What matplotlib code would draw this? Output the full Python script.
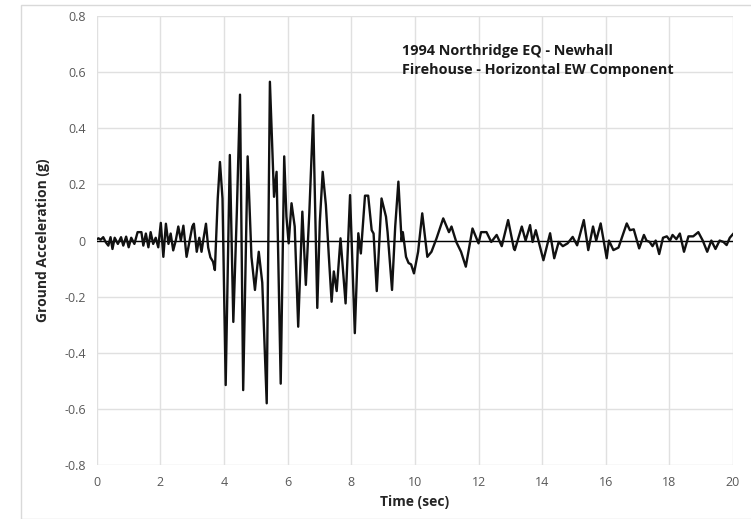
import matplotlib.pyplot as plt
from matplotlib.patches import Rectangle

# Time (sec) and ground acceleration (g)
time_s = [
    0.00, 0.05, 0.12, 0.20, 0.28, 0.36, 0.43, 0.49, 0.56, 0.66, 0.76, 0.83, 0.92, 1.00,
    1.08, 1.18, 1.28, 1.40, 1.46, 1.54, 1.62, 1.69, 1.77, 1.85, 1.93, 2.01, 2.09, 2.17,
    2.25, 2.32, 2.40, 2.48, 2.56, 2.64, 2.72, 2.82, 2.90, 3.00, 3.05, 3.14, 3.22, 3.29,
    3.35, 3.43, 3.50, 3.57, 3.65, 3.71, 3.80, 3.87, 3.95, 4.05, 4.18, 4.29, 4.40, 4.50,
    4.60, 4.74, 4.86, 4.97, 5.09, 5.20, 5.34, 5.44, 5.57, 5.65, 5.78, 5.89, 5.96, 6.03,
    6.12, 6.22, 6.33, 6.46, 6.57, 6.68, 6.80, 6.93, 7.01, 7.10, 7.20, 7.29, 7.38, 7.45,
    7.54, 7.66, 7.82, 7.96, 8.11, 8.22, 8.30, 8.43, 8.53, 8.64, 8.70, 8.80, 8.95, 9.09,
    9.14, 9.21, 9.28, 9.38, 9.48, 9.58, 9.62, 9.72, 9.80, 9.88, 9.97, 10.10, 10.23,
    10.39, 10.52, 10.68, 10.89, 11.07, 11.15, 11.30, 11.45, 11.60, 11.81, 12.00, 12.08,
    12.25, 12.40, 12.57, 12.73, 12.93, 13.11, 13.14, 13.36, 13.48, 13.62, 13.70, 13.80,
    14.04, 14.25, 14.38, 14.52, 14.65, 14.80, 14.96, 15.10, 15.31, 15.45, 15.60, 15.70,
    15.84, 16.03, 16.10, 16.24, 16.40, 16.66, 16.76, 16.88, 17.05, 17.20, 17.28, 17.38,
    17.47, 17.57, 17.68, 17.80, 17.92, 18.02, 18.10, 18.22, 18.33, 18.46, 18.60, 18.75,
    18.91, 19.05, 19.19, 19.32, 19.45, 19.58, 19.70, 19.80, 19.90, 20.00,
]
accel_g = [
    0.005, 0.008, 0.003, 0.012, -0.006, -0.018, 0.012, -0.030, 0.010, -0.012, 0.012,
    -0.018, 0.014, -0.024, 0.010, -0.012, 0.030, 0.030, -0.018, 0.025, -0.024, 0.030,
    -0.012, 0.010, -0.024, 0.063, -0.058, 0.060, -0.012, 0.025, -0.035, 0.000, 0.050,
    0.000, 0.053, -0.058, -0.010, 0.050, 0.060, -0.040, 0.010, -0.040, 0.005, 0.060,
    -0.025, -0.060, -0.075, -0.105, 0.150, 0.280, 0.150, -0.515, 0.305, -0.290, 0.100,
    0.520, -0.533, 0.300, -0.058, -0.176, -0.040, -0.150, -0.580, 0.566, 0.156, 0.245,
    -0.510, 0.300, 0.085, -0.010, 0.133, 0.050, -0.307, 0.103, -0.158, 0.100, 0.447,
    -0.240, 0.067, 0.245, 0.127, -0.050, -0.218, -0.110, -0.180, 0.008, -0.224, 0.162,
    -0.330, 0.026, -0.046, 0.160, 0.160, 0.037, 0.025, -0.180, 0.150, 0.085, 0.030,
    -0.075, -0.176, 0.050, 0.210, 0.000, 0.030, -0.058, -0.080, -0.085, -0.117, -0.040,
    0.097, -0.058, -0.040, 0.008, 0.079, 0.030, 0.050, -0.005, -0.040, -0.093, 0.043,
    -0.010, 0.030, 0.030, -0.005, 0.020, -0.020, 0.073, -0.028, -0.034, 0.050, 0.000,
    0.055, -0.005, 0.037, -0.070, 0.026, -0.063, -0.005, -0.020, -0.010, 0.013, -0.017,
    0.073, -0.034, 0.050, 0.000, 0.061, -0.063, 0.000, -0.034, -0.025, 0.061, 0.037,
    0.040, -0.028, 0.020, 0.000, -0.005, -0.020, 0.000, -0.048, 0.010, 0.015, 0.000,
    0.020, 0.005, 0.025, -0.040, 0.015, 0.015, 0.030, 0.000, -0.040, 0.000, -0.030,
    0.000, -0.005, -0.016, 0.010, 0.023,
]

x_ticks = list(range(0, 21, 2))
y_ticks = [-0.8, -0.6, -0.4, -0.2, 0.0, 0.2, 0.4, 0.6, 0.8]
y_tick_labels = ["-0.8", "-0.6", "-0.4", "-0.2", "0", "0.2", "0.4", "0.6", "0.8"]

plt.rcParams["font.family"] = ["Open Sans", "DejaVu Sans"]

fig = plt.figure(figsize=(7.51, 5.19), dpi=100)
ax = fig.add_axes([0.129, 0.104, 0.847, 0.865])

# light frame around the whole chart area
fig.patches.append(Rectangle((21 / 751, 0.0), 1.0, 1 - 5 / 519, transform=fig.transFigure,
                             fill=False, edgecolor="#d9d9d9", linewidth=1.0))

ax.set_xlim(0, 20)
ax.set_ylim(-0.8, 0.8)
ax.set_xticks(x_ticks)
ax.set_yticks(y_ticks)
ax.set_yticklabels(y_tick_labels)
ax.grid(True, color="#e0e0e0", linewidth=1.0)
ax.set_axisbelow(True)
for side in ax.spines.values():
    side.set_visible(False)
ax.tick_params(length=0, labelsize=9, labelcolor="#595959", pad=8)

ax.axhline(0, color="black", linewidth=1.0, zorder=2)
ax.plot(time_s, accel_g, color="#111111", linewidth=1.7, zorder=3,
        solid_joinstyle="round")

ax.set_xlabel("Time (sec)", fontsize=10, fontweight="bold", color="#262626", labelpad=4)
ax.set_ylabel("Ground Acceleration (g)", fontsize=10, fontweight="bold", color="#262626",
              labelpad=10)

# annotation placed in data units near the upper right
ax.text(9.6, 0.70,
        "1994 Northridge EQ - Newhall\nFirehouse - Horizontal EW Component",
        fontsize=10.4, fontweight="bold", color="#1a1a1a",
        va="top", ha="left", linespacing=1.45)

fig.savefig("out.png", dpi=100)
